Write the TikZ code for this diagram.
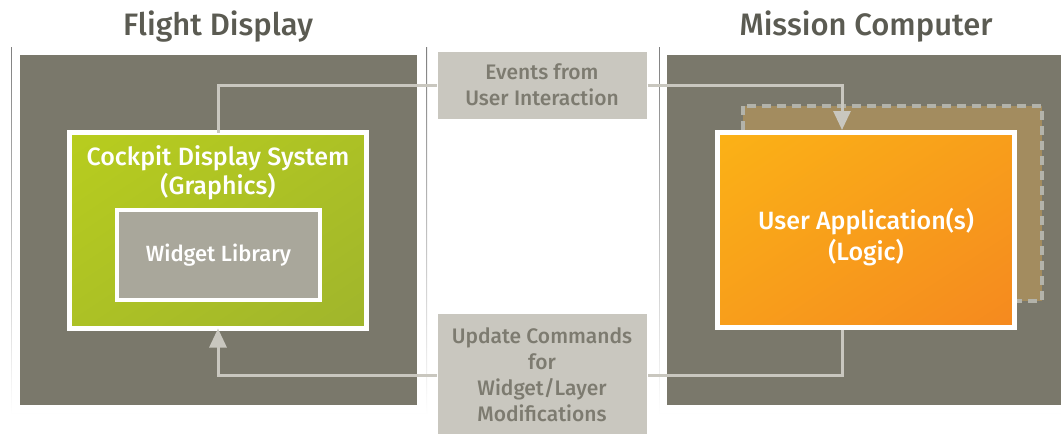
\documentclass[tikz,border=0pt]{standalone}
\usepackage{fontspec}
\setmainfont{Fira Sans Medium}
\usetikzlibrary{arrows.meta,calc,shadings}

\definecolor{panel}{HTML}{7A786B}
\definecolor{titlegray}{HTML}{5B5B52}
\definecolor{msgfill}{HTML}{C9C7BF}
\definecolor{msgtext}{HTML}{7D7B70}
\definecolor{wlfill}{HTML}{A9A79B}
\definecolor{greenA}{HTML}{B8CD1E}
\definecolor{greenM}{HTML}{ACC125}
\definecolor{greenB}{HTML}{A0B52C}
\definecolor{orangeA}{HTML}{FBB216}
\definecolor{orangeM}{HTML}{F89E1B}
\definecolor{orangeB}{HTML}{F5891F}
\definecolor{ghost}{HTML}{A38C5F}
\definecolor{ghostline}{HTML}{B3B3AA}
\definecolor{shade}{HTML}{EFEFEC}

\tikzset{
  paneltitle/.style={text=titlegray, font=\fontsize{31}{34}\selectfont},
  box/.style={draw=white, line width=5pt, inner sep=0pt, outer sep=0pt,
              align=center, text=white},
  greenbox/.style={box, upper left=greenA, upper right=greenM,
                   lower left=greenM, lower right=greenB},
  orangebox/.style={box, upper left=orangeA, upper right=orangeM,
                    lower left=orangeM, lower right=orangeB},
  msgbox/.style={fill=msgfill, draw=white, line width=2pt, inner sep=0pt,
                 outer sep=0pt, align=center, text=msgtext,
                 font=\fontsize{21}{26}\selectfont},
  conn/.style={draw=msgfill, line width=3pt},
  tip/.style={-{Triangle[length=19pt,width=17pt]}},
}

\begin{document}
\begin{tikzpicture}[x=1pt,y=-1pt]
\useasboundingbox (0,0) rectangle (1061,434);
\fill[white] (0,0) rectangle (1061,434);

% titles
\node[paneltitle] (t1) at (218,27) {Flight Display};
\node[paneltitle] (t2) at (866,27) {Mission Computer};

% soft shadows under the white frames
\fill[shade] (11,47) rectangle (427,415);
\fill[shade] (659,47) rectangle (1070,415);

% left panel
\fill[white] (12,47) rectangle (426,413);
\fill[panel] (20,55) rectangle (417,405);

% right panel
\fill[white] (660,47) rectangle (1070,413);
\fill[panel] (667,55) rectangle (1070,405);

% additional application instances behind the main one
\draw[ghostline, line width=3.5pt, dash pattern=on 9pt off 6pt, fill=ghost]
  (743,106) rectangle (1042,301);

% cockpit display system
\node[greenbox, minimum width=297pt, minimum height=196pt] (cds) at (218,230.5) {};
\node[text=white, font=\fontsize{25}{29}\selectfont, align=center]
  (cdslabel) at (218,173) {Cockpit Display System\\(Graphics)};

% widget library
\node[box, fill=wlfill, line width=4pt, minimum width=203pt, minimum height=90pt,
      font=\fontsize{22}{26}\selectfont] (wl) at (218.5,255) {Widget Library};

% user application
\node[orangebox, minimum width=297pt, minimum height=195pt] (app) at (866,230) {};
\node[text=white, font=\fontsize{25}{31}\selectfont, align=center]
  (applabel) at (866,237) {User Application(s)\\(Logic)};

% message boxes
\node[msgbox, minimum width=211pt, minimum height=69pt] (events) at (542,85)
  {Events from\\User Interaction};
\node[msgbox, minimum width=211pt, minimum height=124pt] (update) at (542,375)
  {Update Commands\\for\\Widget/Layer\\Modifications};

% connector end points on the application box
\coordinate (appin) at (842,130);
\coordinate (appout) at (842,330);

% connectors
\draw[conn] (cds.north) |- (events.west);
\draw[conn, tip] (events.east) -| (appin);
\draw[conn] (appout) |- (update.east);
\draw[conn, tip] (update.west) -| (cds.south);
\end{tikzpicture}
\end{document}
